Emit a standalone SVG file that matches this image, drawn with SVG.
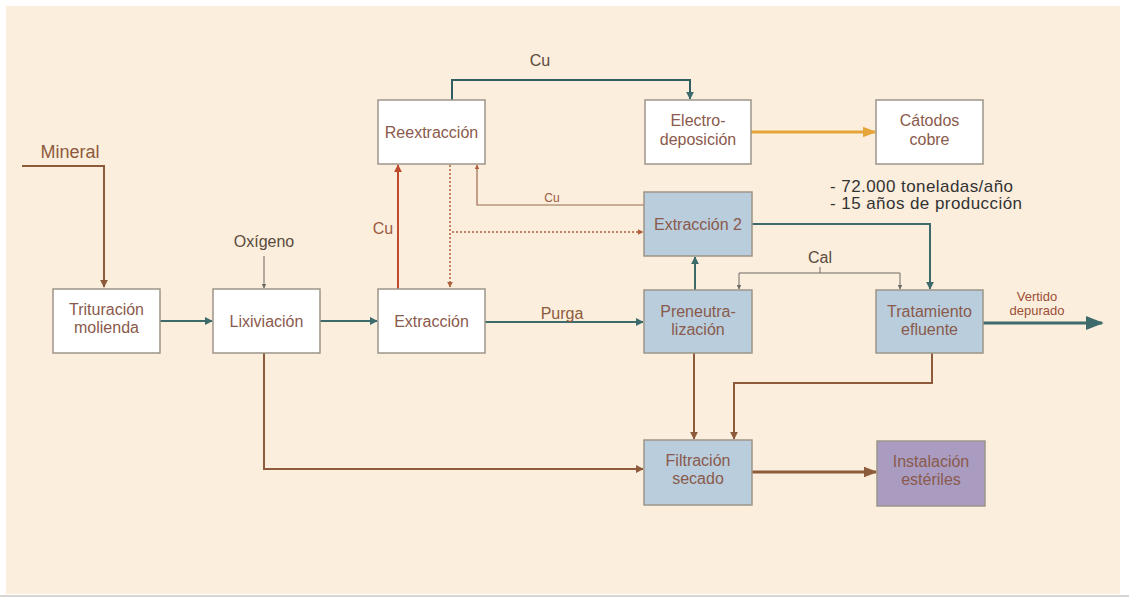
<svg xmlns="http://www.w3.org/2000/svg" width="1129" height="597" viewBox="0 0 1129 597">
<defs>
<style>
.box{stroke:#9d958a;stroke-width:1.5}
.w{fill:#ffffff}
.b{fill:#b9cddc}
.p{fill:#a99cc0}
.nt{font-family:"Liberation Sans",Arial,sans-serif;font-size:16px;fill:#8a5a4c;text-anchor:middle}
.lb{font-family:"Liberation Sans",Arial,sans-serif;font-size:16px;fill:#5a4a3c;text-anchor:middle}
.teal{fill:none;stroke:#3d6b6c;stroke-width:2}
.brown{fill:none;stroke:#8e5a3c;stroke-width:2}
.thin{fill:none;stroke:#9a6a50;stroke-width:1.2}
.gray{fill:none;stroke:#6e6a64;stroke-width:1}
.dot{fill:none;stroke:#b0603c;stroke-width:1.5;stroke-dasharray:2 2}
</style>
<marker id="aT" viewBox="0 0 10 10" refX="9" refY="5" markerWidth="4" markerHeight="4" orient="auto"><path d="M0,0L10,5L0,10z" fill="#3d6b6c"/></marker>
<marker id="aB" viewBox="0 0 10 10" refX="9" refY="5" markerWidth="4" markerHeight="4" orient="auto"><path d="M0,0L10,5L0,10z" fill="#8e5a3c"/></marker>
<marker id="aR" viewBox="0 0 10 10" refX="9" refY="5" markerWidth="4" markerHeight="4" orient="auto"><path d="M0,0L10,5L0,10z" fill="#c04a2c"/></marker>
<marker id="aD" viewBox="0 0 10 10" refX="9" refY="5" markerWidth="4" markerHeight="4" orient="auto"><path d="M0,0L10,5L0,10z" fill="#b0603c"/></marker>
<marker id="aG" viewBox="0 0 10 10" refX="9" refY="5" markerWidth="5" markerHeight="5" orient="auto"><path d="M0,0L10,5L0,10z" fill="#6e6a64"/></marker>
<marker id="aO" viewBox="0 0 10 10" refX="9" refY="5" markerWidth="4.5" markerHeight="4.5" orient="auto"><path d="M0,1L10,5L0,9z" fill="#e6a53a"/></marker>
<marker id="aBig" viewBox="0 0 10 10" refX="9" refY="5" markerWidth="6" markerHeight="6" orient="auto"><path d="M0,1L10,5L0,9z" fill="#3d6b6c"/></marker>
<marker id="aBB" viewBox="0 0 10 10" refX="9" refY="5" markerWidth="4.5" markerHeight="4.5" orient="auto"><path d="M0,1L10,5L0,9z" fill="#8e5a3c"/></marker>
</defs>
<rect x="0" y="0" width="1129" height="597" fill="#ffffff"/>
<rect x="6" y="6" width="1114" height="588" fill="#fbeedd"/>
<line x1="0" y1="596" x2="1129" y2="596" stroke="#b0aaa4" stroke-width="1"/>

<g id="connectors">
<path class="brown" d="M22,166H104V287" marker-end="url(#aB)"/>
<path class="teal" d="M160,321H212" marker-end="url(#aT)"/>
<path class="gray" d="M264,256V288" marker-end="url(#aG)"/>
<path class="teal" d="M320,321H377" marker-end="url(#aT)"/>
<path class="brown" d="M264,353V469H643" marker-end="url(#aB)"/>
<path class="teal" d="M485,322H643" marker-end="url(#aT)"/>
<path fill="none" stroke="#c04a2c" stroke-width="2" d="M398,289V165" marker-end="url(#aR)"/>
<path class="dot" d="M450,165V287" marker-end="url(#aD)"/>
<path class="dot" d="M452,232H643" marker-end="url(#aD)"/>
<path class="thin" d="M644,205H477V165" marker-end="url(#aD)"/>
<path fill="none" stroke="#2f5e62" stroke-width="2" d="M452,100V80H690V99" marker-end="url(#aT)"/>
<path fill="none" stroke="#e6a53a" stroke-width="3" d="M751,132H875" marker-end="url(#aO)"/>
<path class="teal" d="M752,224H930V289" marker-end="url(#aT)"/>
<path class="teal" d="M695,290V257" marker-end="url(#aT)"/>
<path class="gray" d="M820,267V273"/>
<path class="gray" d="M820,273H739V289" marker-end="url(#aG)"/>
<path class="gray" d="M820,273H900V289" marker-end="url(#aG)"/>
<path fill="none" stroke="#3d6b6c" stroke-width="3" d="M983,323H1102" marker-end="url(#aBig)"/>
<path class="brown" d="M694,353V439" marker-end="url(#aB)"/>
<path class="brown" d="M932,353V383H734V439" marker-end="url(#aB)"/>
<path fill="none" stroke="#8e5a3c" stroke-width="3" d="M752,472H876" marker-end="url(#aBB)"/>
</g>

<g id="mineral"><text class="lb" x="70" y="158" style="font-size:18px;fill:#8e5a3c">Mineral</text></g>
<g id="trituracion"><rect class="box w" x="53" y="289" width="107" height="64"/><text class="nt" x="106.5" y="315">Trituración</text><text class="nt" x="106.5" y="333">molienda</text></g>
<g id="lixiviacion"><rect class="box w" x="213" y="289" width="107" height="64"/><text class="nt" x="266.5" y="327">Lixiviación</text></g>
<g id="extraccion"><rect class="box w" x="378" y="289" width="107" height="64"/><text class="nt" x="431.5" y="327">Extracción</text></g>
<g id="reextraccion"><rect class="box w" x="378" y="100" width="107" height="64"/><text class="nt" x="431.5" y="138">Reextracción</text></g>
<g id="electrodeposicion"><rect class="box w" x="645" y="100" width="106" height="64"/><text class="nt" x="698" y="126">Electro-</text><text class="nt" x="698" y="145">deposición</text></g>
<g id="catodos"><rect class="box w" x="876" y="100" width="107" height="64"/><text class="nt" x="929.5" y="126">Cátodos</text><text class="nt" x="929.5" y="145">cobre</text></g>
<g id="extraccion2"><rect class="box b" x="644" y="192" width="108" height="64"/><text class="nt" x="698" y="230">Extracción 2</text></g>
<g id="preneutralizacion"><rect class="box b" x="644" y="290" width="108" height="63"/><text class="nt" x="698" y="317">Preneutra-</text><text class="nt" x="698" y="335">lización</text></g>
<g id="tratamiento"><rect class="box b" x="876" y="290" width="107" height="63"/><text class="nt" x="929.5" y="317">Tratamiento</text><text class="nt" x="929.5" y="335">efluente</text></g>
<g id="filtracion"><rect class="box b" x="644" y="440" width="108" height="65"/><text class="nt" x="698" y="466">Filtración</text><text class="nt" x="698" y="484">secado</text></g>
<g id="instalacion"><rect class="box p" x="877" y="441" width="108" height="65"/><text class="nt" x="931" y="467">Instalación</text><text class="nt" x="931" y="485">estériles</text></g>

<g id="labels">
<text class="lb" x="264" y="247">Oxígeno</text>
<text class="lb" x="540" y="66">Cu</text>
<text class="lb" x="552" y="202" style="font-size:12px;fill:#9a5a40">Cu</text>
<text class="lb" x="383" y="234" style="fill:#9a5a40">Cu</text>
<text class="lb" x="562" y="319" style="fill:#8e5a3c">Purga</text>
<text class="lb" x="820" y="263">Cal</text>
<text class="lb" x="830" y="192" style="text-anchor:start;font-size:17px;fill:#333333" textLength="183">- 72.000 toneladas/año</text>
<text class="lb" x="830" y="209" style="text-anchor:start;font-size:17px;fill:#333333" textLength="192">- 15 años de producción</text>
<text class="lb" x="1037" y="301" style="font-size:13px;fill:#9b4e36">Vertido</text>
<text class="lb" x="1037" y="315" style="font-size:13px;fill:#9b4e36">depurado</text>
</g>
</svg>
